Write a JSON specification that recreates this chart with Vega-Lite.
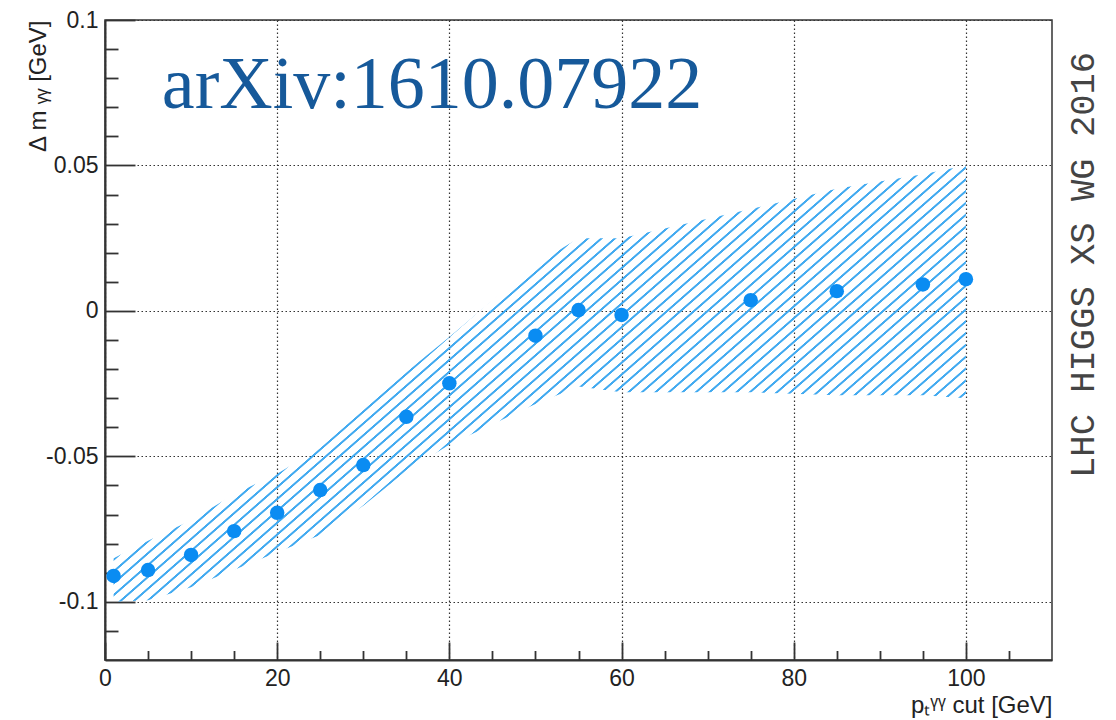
{
  "$schema": "https://vega.github.io/schema/vega-lite/v6.json",
  "autosize": "none",
  "width": 947,
  "height": 640,
  "padding": {"left": 105, "top": 20, "right": 64, "bottom": 60},
  "background": "white",
  "config": {
    "view": {"stroke": "#333", "strokeWidth": 1.5},
    "font": "Liberation Sans"
  },
  "datasets": {
    "points": [
      {"pt": 1, "dm": -0.0911},
      {"pt": 5, "dm": -0.0891},
      {"pt": 10, "dm": -0.0839},
      {"pt": 15, "dm": -0.0757},
      {"pt": 20, "dm": -0.0694},
      {"pt": 25, "dm": -0.0616},
      {"pt": 30, "dm": -0.053},
      {"pt": 35, "dm": -0.0364},
      {"pt": 40, "dm": -0.0249},
      {"pt": 50, "dm": -0.0085},
      {"pt": 55, "dm": 0.0003},
      {"pt": 60, "dm": -0.0014},
      {"pt": 75, "dm": 0.0037},
      {"pt": 85, "dm": 0.0068},
      {"pt": 95, "dm": 0.0091},
      {"pt": 100, "dm": 0.0109}
    ],
    "band": [
      {"pt": 1, "lo": -0.1, "hi": -0.085},
      {"pt": 5, "lo": -0.0995, "hi": -0.079},
      {"pt": 10, "lo": -0.095, "hi": -0.072},
      {"pt": 15, "lo": -0.089, "hi": -0.063},
      {"pt": 20, "lo": -0.083, "hi": -0.056},
      {"pt": 25, "lo": -0.077, "hi": -0.047},
      {"pt": 30, "lo": -0.067, "hi": -0.034},
      {"pt": 35, "lo": -0.055, "hi": -0.021},
      {"pt": 40, "lo": -0.046, "hi": -0.009},
      {"pt": 50, "lo": -0.032, "hi": 0.016},
      {"pt": 55, "lo": -0.026, "hi": 0.025},
      {"pt": 60, "lo": -0.028, "hi": 0.025},
      {"pt": 75, "lo": -0.028, "hi": 0.035},
      {"pt": 85, "lo": -0.029, "hi": 0.042},
      {"pt": 95, "lo": -0.029, "hi": 0.047},
      {"pt": 100, "lo": -0.03, "hi": 0.05}
    ],
    "labels": [
      {"note": "arXiv:1610.07922", "px": 6.6, "py": 0.0698},
      {"note": "LHC HIGGS XS WG 2016", "px": 113.6, "py": 0.0158}
    ]
  },
  "layer": [
    {
      "data": {"name": "band"},
      "mark": {
        "type": "area",
        "fill": {
          "gradient": "linear",
          "x1": 0, "y1": 0, "x2": 1.1812, "y2": 0.6896,
          "stops": [
{"offset":0.0015,"color":"#42aaf000"},{"offset":0.0022,"color":"#42aaf0"},{"offset":0.0038,"color":"#42aaf0"},{"offset":0.0045,"color":"#42aaf000"},
{"offset":0.0115,"color":"#42aaf000"},{"offset":0.0122,"color":"#42aaf0"},{"offset":0.0138,"color":"#42aaf0"},{"offset":0.0145,"color":"#42aaf000"},
{"offset":0.0215,"color":"#42aaf000"},{"offset":0.0222,"color":"#42aaf0"},{"offset":0.0238,"color":"#42aaf0"},{"offset":0.0245,"color":"#42aaf000"},
{"offset":0.0315,"color":"#42aaf000"},{"offset":0.0322,"color":"#42aaf0"},{"offset":0.0338,"color":"#42aaf0"},{"offset":0.0345,"color":"#42aaf000"},
{"offset":0.0415,"color":"#42aaf000"},{"offset":0.0422,"color":"#42aaf0"},{"offset":0.0438,"color":"#42aaf0"},{"offset":0.0445,"color":"#42aaf000"},
{"offset":0.0515,"color":"#42aaf000"},{"offset":0.0522,"color":"#42aaf0"},{"offset":0.0538,"color":"#42aaf0"},{"offset":0.0545,"color":"#42aaf000"},
{"offset":0.0615,"color":"#42aaf000"},{"offset":0.0622,"color":"#42aaf0"},{"offset":0.0638,"color":"#42aaf0"},{"offset":0.0645,"color":"#42aaf000"},
{"offset":0.0715,"color":"#42aaf000"},{"offset":0.0722,"color":"#42aaf0"},{"offset":0.0738,"color":"#42aaf0"},{"offset":0.0745,"color":"#42aaf000"},
{"offset":0.0815,"color":"#42aaf000"},{"offset":0.0822,"color":"#42aaf0"},{"offset":0.0838,"color":"#42aaf0"},{"offset":0.0845,"color":"#42aaf000"},
{"offset":0.0915,"color":"#42aaf000"},{"offset":0.0922,"color":"#42aaf0"},{"offset":0.0938,"color":"#42aaf0"},{"offset":0.0945,"color":"#42aaf000"},
{"offset":0.1015,"color":"#42aaf000"},{"offset":0.1022,"color":"#42aaf0"},{"offset":0.1038,"color":"#42aaf0"},{"offset":0.1045,"color":"#42aaf000"},
{"offset":0.1115,"color":"#42aaf000"},{"offset":0.1122,"color":"#42aaf0"},{"offset":0.1138,"color":"#42aaf0"},{"offset":0.1145,"color":"#42aaf000"},
{"offset":0.1215,"color":"#42aaf000"},{"offset":0.1222,"color":"#42aaf0"},{"offset":0.1238,"color":"#42aaf0"},{"offset":0.1245,"color":"#42aaf000"},
{"offset":0.1315,"color":"#42aaf000"},{"offset":0.1322,"color":"#42aaf0"},{"offset":0.1338,"color":"#42aaf0"},{"offset":0.1345,"color":"#42aaf000"},
{"offset":0.1415,"color":"#42aaf000"},{"offset":0.1422,"color":"#42aaf0"},{"offset":0.1438,"color":"#42aaf0"},{"offset":0.1445,"color":"#42aaf000"},
{"offset":0.1515,"color":"#42aaf000"},{"offset":0.1522,"color":"#42aaf0"},{"offset":0.1538,"color":"#42aaf0"},{"offset":0.1545,"color":"#42aaf000"},
{"offset":0.1615,"color":"#42aaf000"},{"offset":0.1622,"color":"#42aaf0"},{"offset":0.1638,"color":"#42aaf0"},{"offset":0.1645,"color":"#42aaf000"},
{"offset":0.1715,"color":"#42aaf000"},{"offset":0.1722,"color":"#42aaf0"},{"offset":0.1738,"color":"#42aaf0"},{"offset":0.1745,"color":"#42aaf000"},
{"offset":0.1815,"color":"#42aaf000"},{"offset":0.1822,"color":"#42aaf0"},{"offset":0.1838,"color":"#42aaf0"},{"offset":0.1845,"color":"#42aaf000"},
{"offset":0.1915,"color":"#42aaf000"},{"offset":0.1922,"color":"#42aaf0"},{"offset":0.1938,"color":"#42aaf0"},{"offset":0.1945,"color":"#42aaf000"},
{"offset":0.2015,"color":"#42aaf000"},{"offset":0.2022,"color":"#42aaf0"},{"offset":0.2038,"color":"#42aaf0"},{"offset":0.2045,"color":"#42aaf000"},
{"offset":0.2115,"color":"#42aaf000"},{"offset":0.2122,"color":"#42aaf0"},{"offset":0.2138,"color":"#42aaf0"},{"offset":0.2145,"color":"#42aaf000"},
{"offset":0.2215,"color":"#42aaf000"},{"offset":0.2222,"color":"#42aaf0"},{"offset":0.2238,"color":"#42aaf0"},{"offset":0.2245,"color":"#42aaf000"},
{"offset":0.2315,"color":"#42aaf000"},{"offset":0.2322,"color":"#42aaf0"},{"offset":0.2338,"color":"#42aaf0"},{"offset":0.2345,"color":"#42aaf000"},
{"offset":0.2415,"color":"#42aaf000"},{"offset":0.2422,"color":"#42aaf0"},{"offset":0.2438,"color":"#42aaf0"},{"offset":0.2445,"color":"#42aaf000"},
{"offset":0.2515,"color":"#42aaf000"},{"offset":0.2522,"color":"#42aaf0"},{"offset":0.2538,"color":"#42aaf0"},{"offset":0.2545,"color":"#42aaf000"},
{"offset":0.2615,"color":"#42aaf000"},{"offset":0.2622,"color":"#42aaf0"},{"offset":0.2638,"color":"#42aaf0"},{"offset":0.2645,"color":"#42aaf000"},
{"offset":0.2715,"color":"#42aaf000"},{"offset":0.2722,"color":"#42aaf0"},{"offset":0.2738,"color":"#42aaf0"},{"offset":0.2745,"color":"#42aaf000"},
{"offset":0.2815,"color":"#42aaf000"},{"offset":0.2822,"color":"#42aaf0"},{"offset":0.2838,"color":"#42aaf0"},{"offset":0.2845,"color":"#42aaf000"},
{"offset":0.2915,"color":"#42aaf000"},{"offset":0.2922,"color":"#42aaf0"},{"offset":0.2938,"color":"#42aaf0"},{"offset":0.2945,"color":"#42aaf000"},
{"offset":0.3015,"color":"#42aaf000"},{"offset":0.3022,"color":"#42aaf0"},{"offset":0.3038,"color":"#42aaf0"},{"offset":0.3045,"color":"#42aaf000"},
{"offset":0.3115,"color":"#42aaf000"},{"offset":0.3122,"color":"#42aaf0"},{"offset":0.3138,"color":"#42aaf0"},{"offset":0.3145,"color":"#42aaf000"},
{"offset":0.3215,"color":"#42aaf000"},{"offset":0.3222,"color":"#42aaf0"},{"offset":0.3238,"color":"#42aaf0"},{"offset":0.3245,"color":"#42aaf000"},
{"offset":0.3315,"color":"#42aaf000"},{"offset":0.3322,"color":"#42aaf0"},{"offset":0.3338,"color":"#42aaf0"},{"offset":0.3345,"color":"#42aaf000"},
{"offset":0.3415,"color":"#42aaf000"},{"offset":0.3422,"color":"#42aaf0"},{"offset":0.3438,"color":"#42aaf0"},{"offset":0.3445,"color":"#42aaf000"},
{"offset":0.3515,"color":"#42aaf000"},{"offset":0.3522,"color":"#42aaf0"},{"offset":0.3538,"color":"#42aaf0"},{"offset":0.3545,"color":"#42aaf000"},
{"offset":0.3615,"color":"#42aaf000"},{"offset":0.3622,"color":"#42aaf0"},{"offset":0.3638,"color":"#42aaf0"},{"offset":0.3645,"color":"#42aaf000"},
{"offset":0.3715,"color":"#42aaf000"},{"offset":0.3722,"color":"#42aaf0"},{"offset":0.3738,"color":"#42aaf0"},{"offset":0.3745,"color":"#42aaf000"},
{"offset":0.3815,"color":"#42aaf000"},{"offset":0.3822,"color":"#42aaf0"},{"offset":0.3838,"color":"#42aaf0"},{"offset":0.3845,"color":"#42aaf000"},
{"offset":0.3915,"color":"#42aaf000"},{"offset":0.3922,"color":"#42aaf0"},{"offset":0.3938,"color":"#42aaf0"},{"offset":0.3945,"color":"#42aaf000"},
{"offset":0.4015,"color":"#42aaf000"},{"offset":0.4022,"color":"#42aaf0"},{"offset":0.4038,"color":"#42aaf0"},{"offset":0.4045,"color":"#42aaf000"},
{"offset":0.4115,"color":"#42aaf000"},{"offset":0.4122,"color":"#42aaf0"},{"offset":0.4138,"color":"#42aaf0"},{"offset":0.4145,"color":"#42aaf000"},
{"offset":0.4215,"color":"#42aaf000"},{"offset":0.4222,"color":"#42aaf0"},{"offset":0.4238,"color":"#42aaf0"},{"offset":0.4245,"color":"#42aaf000"},
{"offset":0.4315,"color":"#42aaf000"},{"offset":0.4322,"color":"#42aaf0"},{"offset":0.4338,"color":"#42aaf0"},{"offset":0.4345,"color":"#42aaf000"},
{"offset":0.4415,"color":"#42aaf000"},{"offset":0.4422,"color":"#42aaf0"},{"offset":0.4438,"color":"#42aaf0"},{"offset":0.4445,"color":"#42aaf000"},
{"offset":0.4515,"color":"#42aaf000"},{"offset":0.4522,"color":"#42aaf0"},{"offset":0.4538,"color":"#42aaf0"},{"offset":0.4545,"color":"#42aaf000"},
{"offset":0.4615,"color":"#42aaf000"},{"offset":0.4622,"color":"#42aaf0"},{"offset":0.4638,"color":"#42aaf0"},{"offset":0.4645,"color":"#42aaf000"},
{"offset":0.4715,"color":"#42aaf000"},{"offset":0.4722,"color":"#42aaf0"},{"offset":0.4738,"color":"#42aaf0"},{"offset":0.4745,"color":"#42aaf000"},
{"offset":0.4815,"color":"#42aaf000"},{"offset":0.4822,"color":"#42aaf0"},{"offset":0.4838,"color":"#42aaf0"},{"offset":0.4845,"color":"#42aaf000"},
{"offset":0.4915,"color":"#42aaf000"},{"offset":0.4922,"color":"#42aaf0"},{"offset":0.4938,"color":"#42aaf0"},{"offset":0.4945,"color":"#42aaf000"},
{"offset":0.5015,"color":"#42aaf000"},{"offset":0.5022,"color":"#42aaf0"},{"offset":0.5038,"color":"#42aaf0"},{"offset":0.5045,"color":"#42aaf000"},
{"offset":0.5115,"color":"#42aaf000"},{"offset":0.5122,"color":"#42aaf0"},{"offset":0.5138,"color":"#42aaf0"},{"offset":0.5145,"color":"#42aaf000"},
{"offset":0.5215,"color":"#42aaf000"},{"offset":0.5222,"color":"#42aaf0"},{"offset":0.5238,"color":"#42aaf0"},{"offset":0.5245,"color":"#42aaf000"},
{"offset":0.5315,"color":"#42aaf000"},{"offset":0.5322,"color":"#42aaf0"},{"offset":0.5338,"color":"#42aaf0"},{"offset":0.5345,"color":"#42aaf000"},
{"offset":0.5415,"color":"#42aaf000"},{"offset":0.5422,"color":"#42aaf0"},{"offset":0.5438,"color":"#42aaf0"},{"offset":0.5445,"color":"#42aaf000"},
{"offset":0.5515,"color":"#42aaf000"},{"offset":0.5522,"color":"#42aaf0"},{"offset":0.5538,"color":"#42aaf0"},{"offset":0.5545,"color":"#42aaf000"},
{"offset":0.5615,"color":"#42aaf000"},{"offset":0.5622,"color":"#42aaf0"},{"offset":0.5638,"color":"#42aaf0"},{"offset":0.5645,"color":"#42aaf000"},
{"offset":0.5715,"color":"#42aaf000"},{"offset":0.5722,"color":"#42aaf0"},{"offset":0.5738,"color":"#42aaf0"},{"offset":0.5745,"color":"#42aaf000"},
{"offset":0.5815,"color":"#42aaf000"},{"offset":0.5822,"color":"#42aaf0"},{"offset":0.5838,"color":"#42aaf0"},{"offset":0.5845,"color":"#42aaf000"},
{"offset":0.5915,"color":"#42aaf000"},{"offset":0.5922,"color":"#42aaf0"},{"offset":0.5938,"color":"#42aaf0"},{"offset":0.5945,"color":"#42aaf000"},
{"offset":0.6015,"color":"#42aaf000"},{"offset":0.6022,"color":"#42aaf0"},{"offset":0.6038,"color":"#42aaf0"},{"offset":0.6045,"color":"#42aaf000"},
{"offset":0.6115,"color":"#42aaf000"},{"offset":0.6122,"color":"#42aaf0"},{"offset":0.6138,"color":"#42aaf0"},{"offset":0.6145,"color":"#42aaf000"},
{"offset":0.6215,"color":"#42aaf000"},{"offset":0.6222,"color":"#42aaf0"},{"offset":0.6238,"color":"#42aaf0"},{"offset":0.6245,"color":"#42aaf000"},
{"offset":0.6315,"color":"#42aaf000"},{"offset":0.6322,"color":"#42aaf0"},{"offset":0.6338,"color":"#42aaf0"},{"offset":0.6345,"color":"#42aaf000"},
{"offset":0.6415,"color":"#42aaf000"},{"offset":0.6422,"color":"#42aaf0"},{"offset":0.6438,"color":"#42aaf0"},{"offset":0.6445,"color":"#42aaf000"},
{"offset":0.6515,"color":"#42aaf000"},{"offset":0.6522,"color":"#42aaf0"},{"offset":0.6538,"color":"#42aaf0"},{"offset":0.6545,"color":"#42aaf000"},
{"offset":0.6615,"color":"#42aaf000"},{"offset":0.6622,"color":"#42aaf0"},{"offset":0.6638,"color":"#42aaf0"},{"offset":0.6645,"color":"#42aaf000"},
{"offset":0.6715,"color":"#42aaf000"},{"offset":0.6722,"color":"#42aaf0"},{"offset":0.6738,"color":"#42aaf0"},{"offset":0.6745,"color":"#42aaf000"},
{"offset":0.6815,"color":"#42aaf000"},{"offset":0.6822,"color":"#42aaf0"},{"offset":0.6838,"color":"#42aaf0"},{"offset":0.6845,"color":"#42aaf000"},
{"offset":0.6915,"color":"#42aaf000"},{"offset":0.6922,"color":"#42aaf0"},{"offset":0.6938,"color":"#42aaf0"},{"offset":0.6945,"color":"#42aaf000"},
{"offset":0.7015,"color":"#42aaf000"},{"offset":0.7022,"color":"#42aaf0"},{"offset":0.7038,"color":"#42aaf0"},{"offset":0.7045,"color":"#42aaf000"},
{"offset":0.7115,"color":"#42aaf000"},{"offset":0.7122,"color":"#42aaf0"},{"offset":0.7138,"color":"#42aaf0"},{"offset":0.7145,"color":"#42aaf000"},
{"offset":0.7215,"color":"#42aaf000"},{"offset":0.7222,"color":"#42aaf0"},{"offset":0.7238,"color":"#42aaf0"},{"offset":0.7245,"color":"#42aaf000"},
{"offset":0.7315,"color":"#42aaf000"},{"offset":0.7322,"color":"#42aaf0"},{"offset":0.7338,"color":"#42aaf0"},{"offset":0.7345,"color":"#42aaf000"},
{"offset":0.7415,"color":"#42aaf000"},{"offset":0.7422,"color":"#42aaf0"},{"offset":0.7438,"color":"#42aaf0"},{"offset":0.7445,"color":"#42aaf000"},
{"offset":0.7515,"color":"#42aaf000"},{"offset":0.7522,"color":"#42aaf0"},{"offset":0.7538,"color":"#42aaf0"},{"offset":0.7545,"color":"#42aaf000"},
{"offset":0.7615,"color":"#42aaf000"},{"offset":0.7622,"color":"#42aaf0"},{"offset":0.7638,"color":"#42aaf0"},{"offset":0.7645,"color":"#42aaf000"},
{"offset":0.7715,"color":"#42aaf000"},{"offset":0.7722,"color":"#42aaf0"},{"offset":0.7738,"color":"#42aaf0"},{"offset":0.7745,"color":"#42aaf000"},
{"offset":0.7815,"color":"#42aaf000"},{"offset":0.7822,"color":"#42aaf0"},{"offset":0.7838,"color":"#42aaf0"},{"offset":0.7845,"color":"#42aaf000"},
{"offset":0.7915,"color":"#42aaf000"},{"offset":0.7922,"color":"#42aaf0"},{"offset":0.7938,"color":"#42aaf0"},{"offset":0.7945,"color":"#42aaf000"},
{"offset":0.8015,"color":"#42aaf000"},{"offset":0.8022,"color":"#42aaf0"},{"offset":0.8038,"color":"#42aaf0"},{"offset":0.8045,"color":"#42aaf000"},
{"offset":0.8115,"color":"#42aaf000"},{"offset":0.8122,"color":"#42aaf0"},{"offset":0.8138,"color":"#42aaf0"},{"offset":0.8145,"color":"#42aaf000"},
{"offset":0.8215,"color":"#42aaf000"},{"offset":0.8222,"color":"#42aaf0"},{"offset":0.8238,"color":"#42aaf0"},{"offset":0.8245,"color":"#42aaf000"},
{"offset":0.8315,"color":"#42aaf000"},{"offset":0.8322,"color":"#42aaf0"},{"offset":0.8338,"color":"#42aaf0"},{"offset":0.8345,"color":"#42aaf000"},
{"offset":0.8415,"color":"#42aaf000"},{"offset":0.8422,"color":"#42aaf0"},{"offset":0.8438,"color":"#42aaf0"},{"offset":0.8445,"color":"#42aaf000"},
{"offset":0.8515,"color":"#42aaf000"},{"offset":0.8522,"color":"#42aaf0"},{"offset":0.8538,"color":"#42aaf0"},{"offset":0.8545,"color":"#42aaf000"},
{"offset":0.8615,"color":"#42aaf000"},{"offset":0.8622,"color":"#42aaf0"},{"offset":0.8638,"color":"#42aaf0"},{"offset":0.8645,"color":"#42aaf000"},
{"offset":0.8715,"color":"#42aaf000"},{"offset":0.8722,"color":"#42aaf0"},{"offset":0.8738,"color":"#42aaf0"},{"offset":0.8745,"color":"#42aaf000"},
{"offset":0.8815,"color":"#42aaf000"},{"offset":0.8822,"color":"#42aaf0"},{"offset":0.8838,"color":"#42aaf0"},{"offset":0.8845,"color":"#42aaf000"},
{"offset":0.8915,"color":"#42aaf000"},{"offset":0.8922,"color":"#42aaf0"},{"offset":0.8938,"color":"#42aaf0"},{"offset":0.8945,"color":"#42aaf000"},
{"offset":0.9015,"color":"#42aaf000"},{"offset":0.9022,"color":"#42aaf0"},{"offset":0.9038,"color":"#42aaf0"},{"offset":0.9045,"color":"#42aaf000"},
{"offset":0.9115,"color":"#42aaf000"},{"offset":0.9122,"color":"#42aaf0"},{"offset":0.9138,"color":"#42aaf0"},{"offset":0.9145,"color":"#42aaf000"},
{"offset":0.9215,"color":"#42aaf000"},{"offset":0.9222,"color":"#42aaf0"},{"offset":0.9238,"color":"#42aaf0"},{"offset":0.9245,"color":"#42aaf000"},
{"offset":0.9315,"color":"#42aaf000"},{"offset":0.9322,"color":"#42aaf0"},{"offset":0.9338,"color":"#42aaf0"},{"offset":0.9345,"color":"#42aaf000"},
{"offset":0.9415,"color":"#42aaf000"},{"offset":0.9422,"color":"#42aaf0"},{"offset":0.9438,"color":"#42aaf0"},{"offset":0.9445,"color":"#42aaf000"},
{"offset":0.9515,"color":"#42aaf000"},{"offset":0.9522,"color":"#42aaf0"},{"offset":0.9538,"color":"#42aaf0"},{"offset":0.9545,"color":"#42aaf000"},
{"offset":0.9615,"color":"#42aaf000"},{"offset":0.9622,"color":"#42aaf0"},{"offset":0.9638,"color":"#42aaf0"},{"offset":0.9645,"color":"#42aaf000"},
{"offset":0.9715,"color":"#42aaf000"},{"offset":0.9722,"color":"#42aaf0"},{"offset":0.9738,"color":"#42aaf0"},{"offset":0.9745,"color":"#42aaf000"},
{"offset":0.9815,"color":"#42aaf000"},{"offset":0.9822,"color":"#42aaf0"},{"offset":0.9838,"color":"#42aaf0"},{"offset":0.9845,"color":"#42aaf000"},
{"offset":0.9915,"color":"#42aaf000"},{"offset":0.9922,"color":"#42aaf0"},{"offset":0.9938,"color":"#42aaf0"},{"offset":0.9945,"color":"#42aaf000"}
          ]
        }
      },
      "encoding": {
        "x": {
          "field": "pt", "type": "quantitative",
          "scale": {"domain": [0, 110], "nice": false, "zero": false},
          "axis": {
            "orient": "bottom",
            "values": [0, 20, 40, 60, 80, 100],
            "tickSize": -18, "tickWidth": 1.8, "tickColor": "#333",
            "domainColor": "#333", "domainWidth": 2,
            "grid": true, "gridColor": "#333", "gridDash": [1.5, 2.5], "gridWidth": 1.2, "gridOpacity": 1,
            "labelFont": "Liberation Sans", "labelFontSize": 23, "labelColor": "#222",
            "labelPadding": 25, "labelFlush": false, "labelOverlap": false,
            "title": "pₜᵞᵞ cut [GeV]",
            "titleFont": "Liberation Sans", "titleFontSize": 24, "titleFontWeight": "normal", "titleColor": "#222",
            "titleAnchor": "end", "titleAlign": "right", "titleBaseline": "alphabetic",
            "titleX": 947, "titleY": 52
          }
        },
        "y": {
          "field": "lo", "type": "quantitative",
          "scale": {"domain": [-0.12, 0.1], "nice": false, "zero": false},
          "axis": {
            "orient": "left",
            "values": [-0.1, -0.05, 0, 0.05, 0.1],
            "labelExpr": "'' + round(datum.value * 100) / 100",
            "tickSize": -30, "tickWidth": 1.8, "tickColor": "#333",
            "domainColor": "#333", "domainWidth": 2,
            "grid": true, "gridColor": "#333", "gridDash": [1.5, 2.5], "gridWidth": 1.2, "gridOpacity": 1,
            "labelFont": "Liberation Sans", "labelFontSize": 23, "labelColor": "#222",
            "labelPadding": 37, "labelFlush": false, "labelOverlap": false,
            "title": "Δ m ᵧᵧ [GeV]",
            "titleFont": "Liberation Sans", "titleFontSize": 24, "titleFontWeight": "normal", "titleColor": "#222",
            "titleAngle": -90, "titleAlign": "right", "titleBaseline": "middle",
            "titleX": -67, "titleY": 0
          }
        },
        "y2": {"field": "hi"}
      }
    },
    {
      "data": {"name": "points"},
      "mark": {"type": "circle", "size": 210, "color": "#0a8cf2", "opacity": 1},
      "encoding": {
        "x": {
          "field": "pt", "type": "quantitative",
          "scale": {"domain": [0, 110], "nice": false, "zero": false},
          "axis": {
            "orient": "bottom",
            "values": [5, 10, 15, 25, 30, 35, 45, 50, 55, 65, 70, 75, 85, 90, 95, 105],
            "tickSize": -9.5, "tickWidth": 1.8, "tickColor": "#333",
            "domain": false, "grid": false, "labels": false, "title": null
          }
        },
        "y": {
          "field": "dm", "type": "quantitative",
          "scale": {"domain": [-0.12, 0.1], "nice": false, "zero": false},
          "axis": {
            "orient": "left",
            "values": [-0.11, -0.09, -0.08, -0.07, -0.06, -0.04, -0.03, -0.02, -0.01, 0.01, 0.02, 0.03, 0.04, 0.06, 0.07, 0.08, 0.09],
            "tickSize": -13, "tickWidth": 1.8, "tickColor": "#333",
            "domain": false, "grid": false, "labels": false, "title": null
          }
        }
      }
    },
    {
      "data": {"name": "labels"},
      "transform": [{"filter": "datum.px < 50"}],
      "mark": {"type": "text", "font": "Liberation Serif", "fontSize": 74, "color": "#16599a", "align": "left", "baseline": "alphabetic"},
      "encoding": {
        "text": {"field": "note"},
        "x": {"field": "px", "type": "quantitative", "scale": {"domain": [0, 110], "nice": false, "zero": false}, "axis": null},
        "y": {"field": "py", "type": "quantitative", "scale": {"domain": [-0.12, 0.1], "nice": false, "zero": false}, "axis": null}
      }
    },
    {
      "data": {"name": "labels"},
      "transform": [{"filter": "datum.px > 50"}],
      "mark": {"type": "text", "font": "Liberation Mono", "fontSize": 35.5, "color": "#444", "angle": 270, "align": "center", "baseline": "middle"},
      "encoding": {
        "text": {"field": "note"},
        "x": {"field": "px", "type": "quantitative", "scale": {"domain": [0, 110], "nice": false, "zero": false}, "axis": null},
        "y": {"field": "py", "type": "quantitative", "scale": {"domain": [-0.12, 0.1], "nice": false, "zero": false}, "axis": null}
      }
    }
  ],
  "resolve": {"axis": {"x": "independent", "y": "independent"}}
}
